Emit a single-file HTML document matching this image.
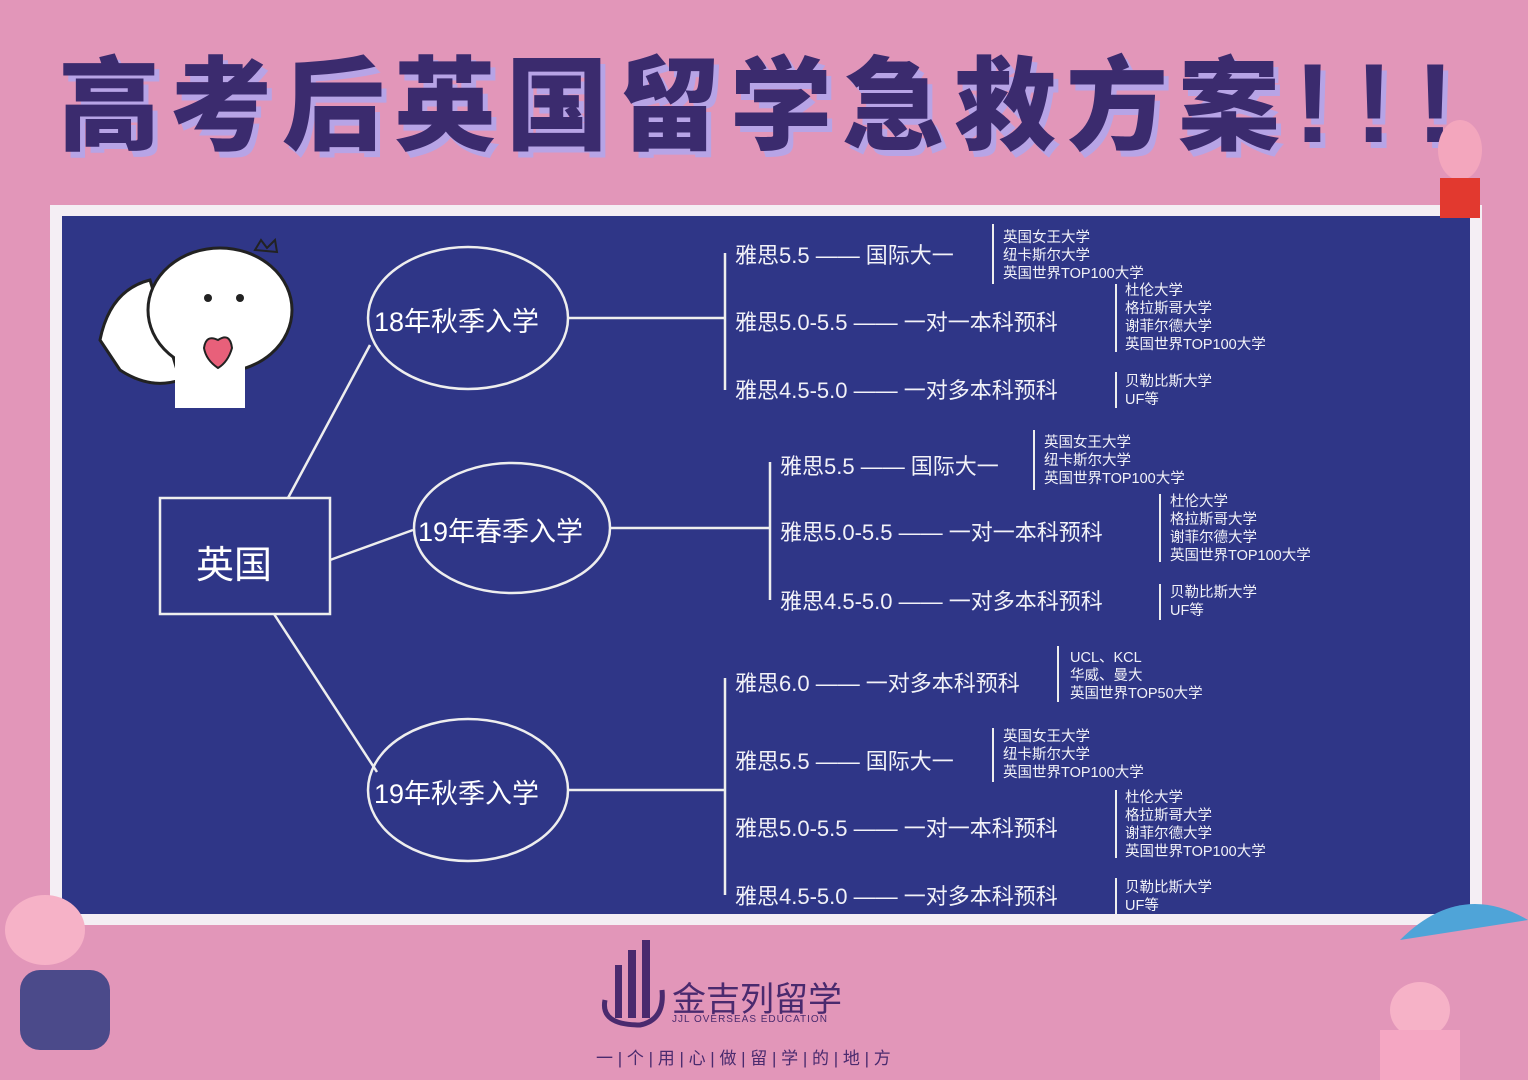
<!DOCTYPE html>
<html><head><meta charset="utf-8">
<style>
*{margin:0;padding:0;box-sizing:border-box}
body{width:1528px;height:1080px;background:#e296b9;position:relative;overflow:hidden;font-family:"Liberation Sans","Noto Sans CJK SC",sans-serif}
.t{position:absolute;white-space:nowrap}
#title{left:58px;top:42px;font-size:102px;font-weight:900;color:#3b2b6e;letter-spacing:10px;text-shadow:5px 6px 0 #b7a4e6;line-height:124px}
#board{position:absolute;left:50px;top:205px;width:1432px;height:720px;background:#f4eef4}
#blue{position:absolute;left:62px;top:216px;width:1408px;height:698px;background:#2f3687}
.w{color:#fff}
.b{font-size:22px;color:#f2f2f8}
.s{font-size:14.5px;line-height:18px;color:#f2f2f8}
</style></head><body>
<div class="t" id="title">高考后英国留学急救方案<span style="font-size:112px;letter-spacing:24px;margin-left:4px">!!!</span></div>
<div id="board"></div>
<div id="blue"></div>

<svg style="position:absolute;left:0;top:0" width="1528" height="1080">
<g stroke="#eee" stroke-width="2.5" fill="none">
<rect x="160" y="498" width="170" height="116"/>
<ellipse cx="468" cy="318" rx="100" ry="71"/>
<ellipse cx="512" cy="528" rx="98" ry="65"/>
<ellipse cx="468" cy="790" rx="100" ry="71"/>
<line x1="288" y1="498" x2="370" y2="345"/>
<line x1="330" y1="560" x2="413" y2="530"/>
<line x1="274" y1="614" x2="377" y2="772"/>
<line x1="568" y1="318" x2="725" y2="318"/>
<line x1="725" y1="253" x2="725" y2="390"/>
<line x1="610" y1="528" x2="770" y2="528"/>
<line x1="770" y1="462" x2="770" y2="600"/>
<line x1="568" y1="790" x2="725" y2="790"/>
<line x1="725" y1="678" x2="725" y2="895"/>
</g>
<g stroke="#eee" stroke-width="2" fill="none">
<line x1="993" y1="224" x2="993" y2="284"/><line x1="1116" y1="284" x2="1116" y2="352"/><line x1="1116" y1="372" x2="1116" y2="408"/>
<line x1="1034" y1="430" x2="1034" y2="490"/><line x1="1160" y1="494" x2="1160" y2="562"/><line x1="1160" y1="584" x2="1160" y2="620"/>
<line x1="1058" y1="646" x2="1058" y2="702"/>
<line x1="993" y1="728" x2="993" y2="782"/><line x1="1116" y1="790" x2="1116" y2="858"/><line x1="1116" y1="878" x2="1116" y2="914"/>
</g>
<g>
<path d="M100 340 Q110 290 150 280 L180 380 Q150 390 120 370 Z" fill="#fff" stroke="#222" stroke-width="3"/>
<ellipse cx="220" cy="310" rx="72" ry="62" fill="#fff" stroke="#222" stroke-width="3"/>
<rect x="175" y="350" width="70" height="58" fill="#fff"/>
<circle cx="208" cy="298" r="4" fill="#222"/><circle cx="240" cy="298" r="4" fill="#222"/>
<path d="M218 340 q12 -8 14 8 q-4 14 -14 20 q-12 -8 -14 -20 q2 -14 14 -8z" fill="#e8607a" stroke="#222" stroke-width="2"/>
<path d="M255 250 l6 -10 l6 8 l8 -8 l2 12z" fill="none" stroke="#222" stroke-width="2"/>
</g>
<ellipse cx="1460" cy="150" rx="22" ry="30" fill="#f3a6bd"/>
<rect x="1440" y="178" width="40" height="40" fill="#e2392f"/>
<ellipse cx="45" cy="930" rx="40" ry="35" fill="#f6b2c7"/>
<rect x="20" y="970" width="90" height="80" rx="20" fill="#4b4a8a"/>
<path d="M1400 940 Q1460 880 1528 920 Z" fill="#4fa4d8"/>
<ellipse cx="1420" cy="1010" rx="30" ry="28" fill="#f6b2c7"/>
<rect x="1380" y="1030" width="80" height="50" fill="#f5a7c3"/>
<path d="M615 965 L622 965 L622 1018 L615 1018 Z M628 950 L636 950 L636 1018 L628 1018Z M642 940 L650 940 L650 1018 L642 1018Z" fill="#4a2a6e"/>
<path d="M605 1000 Q600 1025 640 1025 Q665 1020 662 990" stroke="#4a2a6e" stroke-width="5" fill="none"/>
</svg>

<div class="t w" style="left:196px;top:534px;font-size:38px">英国</div>
<div class="t w" style="left:374px;top:300px;font-size:27px">18年秋季入学</div>
<div class="t w" style="left:418px;top:510px;font-size:27px">19年春季入学</div>
<div class="t w" style="left:374px;top:772px;font-size:27px">19年秋季入学</div>

<div class="t b" style="left:735px;top:238px">雅思5.5 —— 国际大一</div>
<div class="t s" style="left:1003px;top:229px">英国女王大学<br>纽卡斯尔大学<br>英国世界TOP100大学</div>
<div class="t b" style="left:735px;top:305px">雅思5.0-5.5 —— 一对一本科预科</div>
<div class="t s" style="left:1125px;top:282px">杜伦大学<br>格拉斯哥大学<br>谢菲尔德大学<br>英国世界TOP100大学</div>
<div class="t b" style="left:735px;top:373px">雅思4.5-5.0 —— 一对多本科预科</div>
<div class="t s" style="left:1125px;top:373px">贝勒比斯大学<br>UF等</div>

<div class="t b" style="left:780px;top:449px">雅思5.5 —— 国际大一</div>
<div class="t s" style="left:1044px;top:434px">英国女王大学<br>纽卡斯尔大学<br>英国世界TOP100大学</div>
<div class="t b" style="left:780px;top:515px">雅思5.0-5.5 —— 一对一本科预科</div>
<div class="t s" style="left:1170px;top:493px">杜伦大学<br>格拉斯哥大学<br>谢菲尔德大学<br>英国世界TOP100大学</div>
<div class="t b" style="left:780px;top:584px">雅思4.5-5.0 —— 一对多本科预科</div>
<div class="t s" style="left:1170px;top:584px">贝勒比斯大学<br>UF等</div>

<div class="t b" style="left:735px;top:666px">雅思6.0 —— 一对多本科预科</div>
<div class="t s" style="left:1070px;top:649px">UCL、KCL<br>华威、曼大<br>英国世界TOP50大学</div>
<div class="t b" style="left:735px;top:744px">雅思5.5 —— 国际大一</div>
<div class="t s" style="left:1003px;top:728px">英国女王大学<br>纽卡斯尔大学<br>英国世界TOP100大学</div>
<div class="t b" style="left:735px;top:811px">雅思5.0-5.5 —— 一对一本科预科</div>
<div class="t s" style="left:1125px;top:789px">杜伦大学<br>格拉斯哥大学<br>谢菲尔德大学<br>英国世界TOP100大学</div>
<div class="t b" style="left:735px;top:879px">雅思4.5-5.0 —— 一对多本科预科</div>
<div class="t s" style="left:1125px;top:879px">贝勒比斯大学<br>UF等</div>

<div class="t" style="left:672px;top:972px;font-size:34px;color:#4a2a6e">金吉列留学</div>
<div class="t" style="left:672px;top:1014px;font-size:10px;color:#4a2a6e;letter-spacing:1px">JJL OVERSEAS EDUCATION</div>
<div class="t" style="left:596px;top:1044px;font-size:17px;color:#4a2a6e;letter-spacing:0px">一 | 个 | 用 | 心 | 做 | 留 | 学 | 的 | 地 | 方</div>
</body></html>
